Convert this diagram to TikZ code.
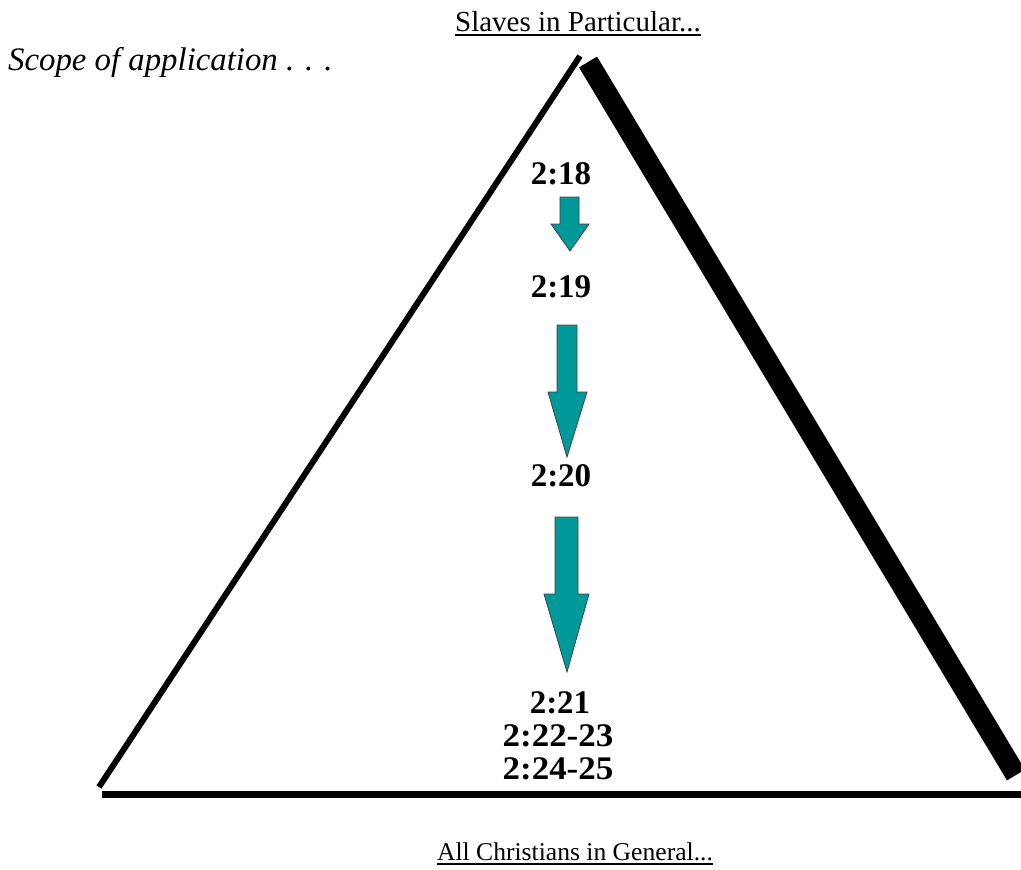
\documentclass[tikz,border=0pt]{standalone}
\usepackage{fontspec}
\setmainfont{Liberation Serif}
\usetikzlibrary{calc}
\definecolor{arrowteal}{RGB}{0,153,153}
\begin{document}
\begin{tikzpicture}[x=1pt,y=-1pt,
  lbl/.style={inner sep=0, anchor=base, font=\fontsize{29}{33}\selectfont},
  ref/.style={inner sep=0, anchor=base, font=\fontsize{33}{33}\selectfont\bfseries},
  downarrow/.style={fill=arrowteal, draw=black!75, line width=0.8},
  uline/.style={line width=2}]
\useasboundingbox (0,0) rectangle (1021,870);
% triangle corners
\coordinate (Lb) at (99,787);
\coordinate (Lt) at (580,56);
\coordinate (Rt) at (588,62);
\coordinate (Rb) at (1016,775);
\coordinate (Bl) at (102,794);
\coordinate (Br) at (1021,794);
\draw[line width=6] (Lb) -- (Lt);
\draw[line width=21] (Rt) -- (Rb);
\draw[line width=7] (Bl) -- (Br);
% arrows
\draw[downarrow] (560,197) -- (579,197) -- (579,224) -- (589,224) -- (570,251) -- (551,224) -- (560,224) -- cycle;
\draw[downarrow] (557,325) -- (577,325) -- (577,392) -- (587,392) -- (567,457) -- (548,392) -- (557,392) -- cycle;
\draw[downarrow] (555,517) -- (578,517) -- (578,594) -- (589,594) -- (567,672) -- (544,594) -- (555,594) -- cycle;
% labels
\node[lbl] (top) at (578,31) {Slaves in Particular...};
\draw[uline] ($(top.base west)+(0,4)$) -- ($(top.base east)+(0,4)$);
\node[lbl, font=\fontsize{25.6}{33}\selectfont] (bot) at (575,860) {All Christians in General...};
\draw[uline] ($(bot.base west)+(0,4)$) -- ($(bot.base east)+(0,4)$);
\node[lbl, anchor=base west, font=\fontsize{32.8}{33}\selectfont\itshape] (scope) at (8,70) {Scope of application . . .};
\node[ref] (r18) at (561,184) {2:18};
\node[ref] (r19) at (561,297) {2:19};
\node[ref] (r20) at (561,486) {2:20};
\node[ref] (r21) at (560,713) {2:21};
\node[ref] (r22) at (558,746) {\scalebox{1.06}[1]{2:22-23}};
\node[ref] (r24) at (558,779) {\scalebox{1.06}[1]{2:24-25}};
\end{tikzpicture}
\end{document}
